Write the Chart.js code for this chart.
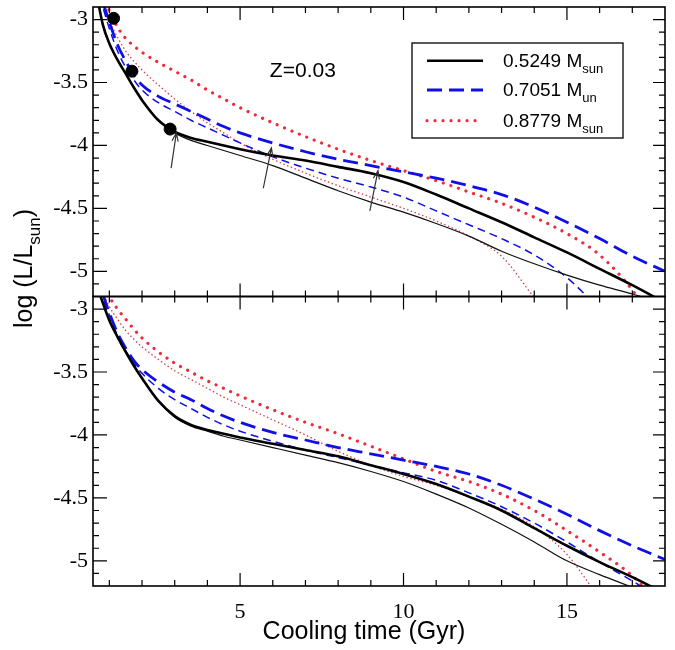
<!DOCTYPE html>
<html>
<head>
<meta charset="utf-8">
<script src="https://cdn.jsdelivr.net/npm/chart.js@4.4.1/dist/chart.umd.min.js"></script>
<style>
  html, body { margin: 0; padding: 0; background: #fff; }
</style>
</head>
<body>
<canvas id="myChart" width="675" height="650"></canvas>
<script>
// cooling time grid (Gyr) shared by every track
const timeGrid = [0.6, 0.8, 1.0, 1.25, 1.5, 1.75, 2.0, 2.5, 3.0, 3.5, 4.0, 4.5, 5, 6, 7, 8, 9, 10, 11, 12, 13, 14, 15, 16, 17, 18];

// upper panel, log(L/Lsun)
const upBlackThick = [-2.78, -3.04, -3.19, -3.32, -3.43, -3.54, -3.64, -3.80, -3.89, -3.94, -3.97, -4.00, -4.03, -4.08, -4.12, -4.17, -4.22, -4.29, -4.39, -4.50, -4.61, -4.73, -4.85, -4.98, -5.11, -5.25];
const upBlackThin  = [-2.78, -3.04, -3.19, -3.32, -3.43, -3.54, -3.64, -3.80, -3.90, -3.96, -4.00, -4.04, -4.08, -4.16, -4.26, -4.36, -4.45, -4.53, -4.62, -4.72, -4.84, -4.94, -5.03, -5.11, -5.18, -5.26];
const upBlueThick  = [-2.70, -2.86, -3.02, -3.20, -3.33, -3.44, -3.52, -3.61, -3.67, -3.73, -3.79, -3.85, -3.90, -3.98, -4.05, -4.11, -4.16, -4.21, -4.26, -4.32, -4.39, -4.49, -4.61, -4.74, -4.88, -5.00];
const upBlueThin   = [-2.72, -2.90, -3.07, -3.25, -3.38, -3.48, -3.56, -3.66, -3.73, -3.80, -3.86, -3.92, -3.98, -4.09, -4.18, -4.26, -4.33, -4.41, -4.52, -4.63, -4.74, -4.87, -5.05, -5.30, null, null];
const upRedThick   = [-2.62, -2.78, -2.93, -3.06, -3.15, -3.21, -3.26, -3.34, -3.41, -3.48, -3.56, -3.63, -3.70, -3.82, -3.93, -4.03, -4.12, -4.20, -4.28, -4.37, -4.46, -4.57, -4.70, -4.87, -5.15, -5.55];
const upRedThin    = [-2.66, -2.86, -3.01, -3.14, -3.25, -3.33, -3.40, -3.52, -3.63, -3.73, -3.82, -3.90, -3.98, -4.11, -4.22, -4.32, -4.41, -4.50, -4.60, -4.72, -4.88, -5.21, null, null, null, null];

// lower panel, log(L/Lsun)
const loBlackThick = [-2.80, -2.95, -3.09, -3.22, -3.34, -3.45, -3.55, -3.73, -3.85, -3.92, -3.96, -3.99, -4.02, -4.07, -4.12, -4.17, -4.24, -4.31, -4.39, -4.49, -4.60, -4.74, -4.88, -5.01, -5.13, -5.26];
const loBlackThin  = [-2.80, -2.95, -3.09, -3.22, -3.34, -3.45, -3.55, -3.73, -3.86, -3.93, -3.97, -4.01, -4.04, -4.10, -4.16, -4.22, -4.29, -4.37, -4.47, -4.58, -4.71, -4.85, -5.00, -5.11, -5.21, null];
const loBlueThick  = [-2.72, -2.88, -3.03, -3.19, -3.31, -3.41, -3.48, -3.58, -3.66, -3.72, -3.79, -3.85, -3.90, -3.98, -4.04, -4.10, -4.15, -4.20, -4.25, -4.31, -4.40, -4.51, -4.63, -4.76, -4.88, -4.99];
const loBlueThin   = [-2.74, -2.91, -3.05, -3.21, -3.33, -3.43, -3.51, -3.63, -3.72, -3.79, -3.86, -3.92, -3.97, -4.05, -4.12, -4.18, -4.24, -4.30, -4.36, -4.46, -4.57, -4.70, -4.85, -5.01, -5.16, -5.32];
const loRedThick   = [-2.64, -2.78, -2.90, -3.00, -3.08, -3.16, -3.23, -3.34, -3.43, -3.50, -3.57, -3.63, -3.69, -3.80, -3.90, -3.99, -4.09, -4.19, -4.29, -4.37, -4.47, -4.60, -4.76, -4.93, -5.12, -5.40];
const loRedThin    = [-2.68, -2.86, -2.98, -3.08, -3.17, -3.24, -3.30, -3.40, -3.49, -3.56, -3.63, -3.70, -3.76, -3.88, -4.00, -4.13, -4.24, -4.33, -4.40, -4.49, -4.59, -4.73, -4.95, -5.30, null, null];

// marked points on the 0.5249 track
const dotTime = [1.13, 1.69, 2.86];
const dotLum  = [-2.99, -3.41, -3.87];

// arrows (tail -> head)
const arrowFromT = [2.89, 5.71, 8.97];
const arrowFromL = [-4.18, -4.34, -4.52];
const arrowToT   = [3.05, 5.96, 9.22];
const arrowToL   = [-3.90, -4.02, -4.20];

const massLabels = ['0.5249 M', '0.7051 M', '0.8779 M'];
const massSubs   = ['sun', 'un', 'sun'];

const xTickValues = [5, 10, 15];
const xTickLabels = ['5', '10', '15'];
const yTickValues = [-5, -4.5, -4, -3.5, -3];
const yTickLabels = ['-5', '-4.5', '-4', '-3.5', '-3'];

const BLUE = '#1010e6';
const RED = '#f02a3a';

const styles = {
  blackThick: { borderColor: '#000', borderWidth: 2.6, borderDash: [] },
  blackThin:  { borderColor: '#111', borderWidth: 1.2, borderDash: [] },
  blueThick:  { borderColor: BLUE, borderWidth: 2.8, borderDash: [15, 7] },
  blueThin:   { borderColor: BLUE, borderWidth: 1.5, borderDash: [8, 5] },
  redThick:   { borderColor: RED, borderWidth: 3.2, borderDash: [0.01, 8], borderCapStyle: 'round' },
  redThin:    { borderColor: '#d8404a', borderWidth: 1.3, borderDash: [1.5, 2.5] }
};

function track(vals, style, axis) {
  return Object.assign({
    data: timeGrid.map((t, i) => ({ x: t, y: vals[i] })),
    yAxisID: axis,
    pointRadius: 0,
    fill: false,
    cubicInterpolationMode: 'monotone',
    spanGaps: false,
    clip: 0
  }, style);
}

const ctx = document.getElementById('myChart').getContext('2d');

function drawArrow(c, x0, y0, x1, y1) {
  const ang = Math.atan2(y1 - y0, x1 - x0);
  c.beginPath();
  c.moveTo(x0, y0);
  c.lineTo(x1, y1);
  c.moveTo(x1 - 9 * Math.cos(ang - 0.35), y1 - 9 * Math.sin(ang - 0.35));
  c.lineTo(x1, y1);
  c.lineTo(x1 - 9 * Math.cos(ang + 0.35), y1 - 9 * Math.sin(ang + 0.35));
  c.stroke();
}

function strokeSample(c, style, x0, x1, y) {
  c.save();
  c.strokeStyle = style.borderColor;
  c.lineWidth = style.borderWidth;
  c.setLineDash(style.borderDash);
  c.lineCap = style.borderCapStyle || 'butt';
  c.beginPath();
  c.moveTo(x0, y);
  c.lineTo(x1, y);
  c.stroke();
  c.restore();
}

const panelDecor = {
  id: 'panelDecor',
  afterDatasetsDraw(chart) {
    const c = chart.ctx;
    const a = chart.chartArea;
    const xs = chart.scales.x;
    const yUp = chart.scales.yTop;
    c.save();

    // frames with inward ticks
    [chart.scales.yTop, chart.scales.yLow].forEach(ys => {
      c.strokeStyle = '#000';
      c.lineWidth = 1.2;
      c.beginPath();
      for (let t = 1; t <= 17; t++) {
        const px = xs.getPixelForValue(t);
        const len = t % 5 === 0 ? 13 : 6;
        c.moveTo(px, ys.top); c.lineTo(px, ys.top + len);
        c.moveTo(px, ys.bottom); c.lineTo(px, ys.bottom - len);
      }
      for (let k = -51; k <= -30; k++) {
        const py = ys.getPixelForValue(k / 10);
        const major = k % 5 === 0;
        c.moveTo(a.left, py); c.lineTo(a.left + (major ? 14 : 6), py);
        c.moveTo(a.right, py); c.lineTo(a.right - (major ? 12 : 6), py);
      }
      c.stroke();
      c.lineWidth = 1.6;
      c.strokeRect(a.left, ys.top, a.right - a.left, ys.bottom - ys.top);
    });

    // arrows in the upper panel
    c.strokeStyle = '#333';
    c.lineWidth = 1.2;
    arrowFromT.forEach((t, i) => {
      drawArrow(c, xs.getPixelForValue(t), yUp.getPixelForValue(arrowFromL[i]),
        xs.getPixelForValue(arrowToT[i]), yUp.getPixelForValue(arrowToL[i]));
    });

    // metallicity label
    c.fillStyle = '#000';
    c.font = '21px "Liberation Sans"';
    c.textAlign = 'center';
    c.textBaseline = 'middle';
    c.fillText('Z=0.03', xs.getPixelForValue(6.92), yUp.getPixelForValue(-3.413));

    // x axis title
    c.font = '25px "Liberation Sans"';
    c.fillText('Cooling time (Gyr)', a.left + 271, a.bottom + 46);

    // legend box
    const bx = a.right - 253, by = a.top + 36, bw = 211, bh = 95;
    c.lineWidth = 1.3;
    c.strokeStyle = '#000';
    c.strokeRect(bx, by, bw, bh);
    const rowStyles = [styles.blackThick, styles.blueThick, styles.redThick];
    const rowY = [17.7, 47, 77.7];
    c.textAlign = 'left';
    c.textBaseline = 'alphabetic';
    massLabels.forEach((lab, i) => {
      const y = by + rowY[i];
      strokeSample(c, rowStyles[i], bx + 15, bx + 71, y);
      c.font = '19px "Liberation Sans"';
      c.fillText(lab, bx + 91, y + 6);
      const w = c.measureText(lab).width;
      c.font = '13px "Liberation Sans"';
      c.fillText(massSubs[i], bx + 91 + w, y + 12);
    });

    // y axis title with subscript
    c.font = '25px "Liberation Sans"';
    const main = 'log (L/L';
    const wMain = c.measureText(main).width;
    const wClose = c.measureText(')').width;
    c.font = '17px "Liberation Sans"';
    const wSub = c.measureText('sun').width;
    const total = wMain + wSub + wClose;
    c.translate(32, (a.top + a.bottom) / 2 - 28 + total / 2);
    c.rotate(-Math.PI / 2);
    c.font = '25px "Liberation Sans"';
    c.fillText(main, 0, 0);
    c.font = '17px "Liberation Sans"';
    c.fillText('sun', wMain, 8);
    c.font = '25px "Liberation Sans"';
    c.fillText(')', wMain + wSub, 0);

    c.restore();
  }
};

const yScale = () => ({
  type: 'linear',
  position: 'left',
  stack: 'panels',
  stackWeight: 1,
  min: -5.2,
  max: -2.9,
  grid: { display: false, drawTicks: false, tickLength: 0 },
  border: { display: false },
  afterBuildTicks: s => { s.ticks = yTickValues.map(v => ({ value: v })); },
  afterFit: s => { s.width = 93; s.paddingTop = 0; s.paddingBottom = 0; },
  ticks: {
    padding: 5,
    color: '#000',
    font: { family: 'Liberation Serif', size: 22 },
    callback: (v, i) => yTickLabels[i]
  }
});

Chart.defaults.font.family = 'Liberation Sans';
Chart.defaults.color = '#000';

new Chart(ctx, {
  type: 'line',
  data: {
    datasets: [
      { type: 'scatter', data: dotTime.map((t, i) => ({ x: t, y: dotLum[i] })), yAxisID: 'yTop',
        pointRadius: 6, pointBackgroundColor: '#000', pointBorderColor: '#000', showLine: false },
      track(upBlackThick, styles.blackThick, 'yTop'),
      track(upBlueThick, styles.blueThick, 'yTop'),
      track(upRedThick, styles.redThick, 'yTop'),
      track(upBlackThin, styles.blackThin, 'yTop'),
      track(upBlueThin, styles.blueThin, 'yTop'),
      track(upRedThin, styles.redThin, 'yTop'),
      track(loBlackThick, styles.blackThick, 'yLow'),
      track(loBlueThick, styles.blueThick, 'yLow'),
      track(loRedThick, styles.redThick, 'yLow'),
      track(loBlackThin, styles.blackThin, 'yLow'),
      track(loBlueThin, styles.blueThin, 'yLow'),
      track(loRedThin, styles.redThin, 'yLow')
    ]
  },
  options: {
    responsive: false,
    animation: false,
    layout: { padding: { left: 0, right: 10, top: 7, bottom: 0 } },
    plugins: { legend: { display: false }, tooltip: { enabled: false } },
    scales: {
      x: {
        type: 'linear',
        position: 'bottom',
        min: 0.5,
        max: 18,
        grid: { display: false, drawTicks: false, tickLength: 0 },
        border: { display: false },
        afterBuildTicks: s => { s.ticks = xTickValues.map(v => ({ value: v })); },
        afterFit: s => { s.height = 64; s.paddingLeft = 0; s.paddingRight = 0; },
        ticks: {
          padding: 13,
          maxRotation: 0,
          color: '#000',
          font: { family: 'Liberation Serif', size: 22 },
          callback: (v, i) => xTickLabels[i]
        }
      },
      yLow: yScale(),
      yTop: yScale()
    }
  },
  plugins: [panelDecor]
});
</script>
</body>
</html>
